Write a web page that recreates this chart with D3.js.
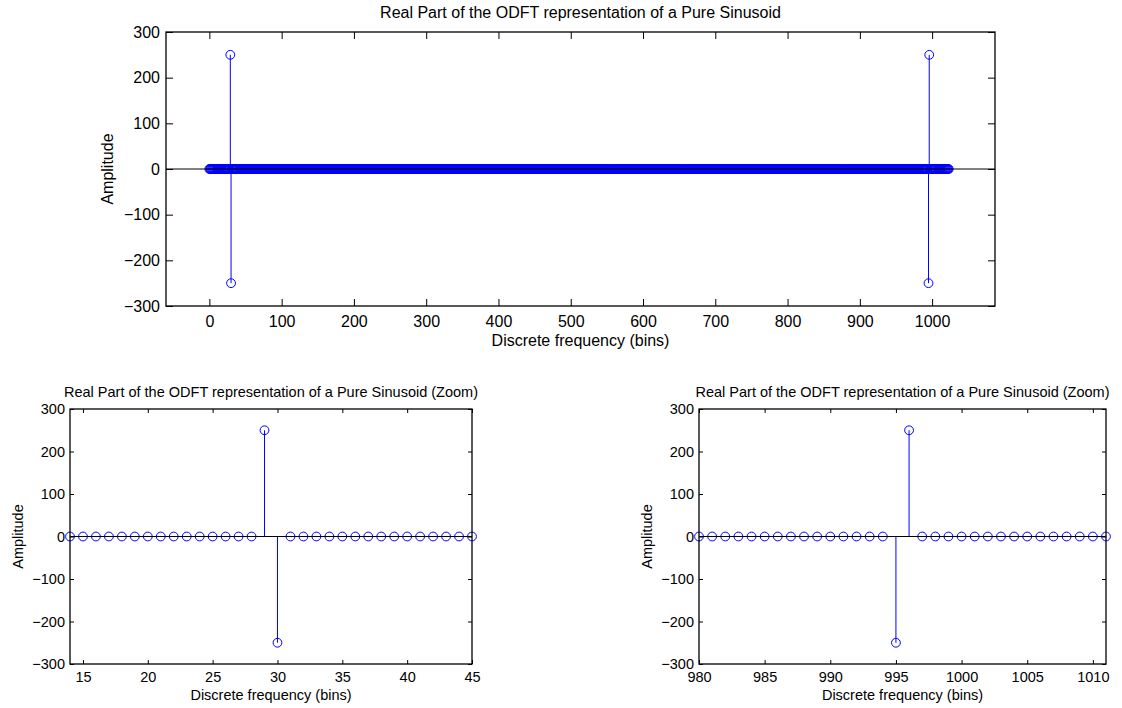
<!DOCTYPE html>
<html>
<head>
<meta charset="utf-8">
<script src="https://cdn.jsdelivr.net/npm/d3@7"></script>
<style>
    body { margin: 0; background: #fff; }
    svg { display: block; }
    text { font-family: "Liberation Sans", Arial, Helvetica, sans-serif; fill: #000; }
</style>
</head>
<body>
<div id="chart"></div>
<script>
// ODFT real part: 1024 bins, all zero except the four peaks
const binCount = 1024;
const peakBins = [29, 30, 995, 996];
const peakValues = [250, -250, -250, 250];

const yTicks = [-300, -200, -100, 0, 100, 200, 300];
const topXTicks = [0, 100, 200, 300, 400, 500, 600, 700, 800, 900, 1000];
const zoomLeftXTicks = [15, 20, 25, 30, 35, 40, 45];
const zoomRightXTicks = [980, 985, 990, 995, 1000, 1005, 1010];

const mainTitle = "Real Part of the ODFT representation of a Pure Sinusoid";
const zoomTitle = "Real Part of the ODFT representation of a Pure Sinusoid (Zoom)";
const xLabel = "Discrete frequency (bins)";
const yLabel = "Amplitude";

// full series, built from the sparse peaks
const series = d3.range(binCount).map(function (k) {
    let i = peakBins.indexOf(k);
    return { bin: k, value: i >= 0 ? peakValues[i] : 0 };
});

const svg = d3.select("#chart").append("svg")
    .attr("width", 1122)
    .attr("height", 708);

function fmt(d) {
    return d < 0 ? "\u2212" + Math.abs(d) : String(d);
}

function drawPanel(cfg) {
    let x = d3.scaleLinear().domain(cfg.xDomain).range([cfg.left, cfg.right]);
    let y = d3.scaleLinear().domain([-300, 300]).range([cfg.bottom, cfg.top]);

    let g = svg.append("g").style("font-size", cfg.font + "px");

    let data = series.filter(d => d.bin >= cfg.xDomain[0] && d.bin <= cfg.xDomain[1]);

    // stems
    g.append("g").selectAll("line")
        .data(data.filter(d => d.value !== 0))
        .join("line")
        .attr("x1", d => x(d.bin)).attr("x2", d => x(d.bin))
        .attr("y1", y(0)).attr("y2", d => y(d.value))
        .attr("stroke", "#0000ff")
        .attr("stroke-width", 1);

    // markers
    g.append("g").selectAll("circle")
        .data(data)
        .join("circle")
        .attr("cx", d => x(d.bin))
        .attr("cy", d => y(d.value))
        .attr("r", 4.4)
        .attr("fill", "none")
        .attr("stroke", "#0000ff")
        .attr("stroke-width", 1);

    // baseline
    g.append("line")
        .attr("x1", cfg.left).attr("x2", cfg.right)
        .attr("y1", y(0)).attr("y2", y(0))
        .attr("stroke", "#000")
        .attr("stroke-width", 1);

    // axes (ticks inside, mirrored on all sides)
    let tl = cfg.tickLen;
    g.append("g")
        .attr("transform", "translate(0," + cfg.bottom + ")")
        .call(d3.axisBottom(x).tickValues(cfg.xTicks).tickSize(-tl).tickPadding(tl + cfg.xPad).tickFormat(fmt))
        .call(a => a.select(".domain").remove());
    g.append("g")
        .attr("transform", "translate(0," + cfg.top + ")")
        .call(d3.axisTop(x).tickValues(cfg.xTicks).tickSize(-tl).tickFormat(""))
        .call(a => a.select(".domain").remove());
    g.append("g")
        .attr("transform", "translate(" + cfg.left + ",0)")
        .call(d3.axisLeft(y).tickValues(yTicks).tickSize(-tl).tickPadding(tl + cfg.yPad).tickFormat(fmt))
        .call(a => a.select(".domain").remove());
    g.append("g")
        .attr("transform", "translate(" + cfg.right + ",0)")
        .call(d3.axisRight(y).tickValues(yTicks).tickSize(-tl).tickFormat(""))
        .call(a => a.select(".domain").remove());

    g.selectAll(".tick text").style("font-size", cfg.font + "px")
        .attr("font-family", null);
    g.selectAll(".tick line").attr("stroke", "#000");

    // box
    g.append("rect")
        .attr("x", cfg.left).attr("y", cfg.top)
        .attr("width", cfg.right - cfg.left)
        .attr("height", cfg.bottom - cfg.top)
        .attr("fill", "none")
        .attr("stroke", "#000")
        .attr("stroke-width", 1.3);

    // texts
    let cx = (cfg.left + cfg.right) / 2;
    g.append("text")
        .attr("x", cx).attr("y", cfg.top - cfg.titleGap)
        .attr("text-anchor", "middle")
        .text(cfg.title);
    g.append("text")
        .attr("x", cx).attr("y", cfg.bottom + cfg.xLabelGap)
        .attr("text-anchor", "middle")
        .text(xLabel);
    g.append("text")
        .attr("transform", "translate(" + (cfg.left - cfg.yLabelGap) + "," + ((cfg.top + cfg.bottom) / 2) + ") rotate(-90)")
        .attr("text-anchor", "middle")
        .text(yLabel);
}

drawPanel({
    left: 166, right: 995, top: 32, bottom: 306,
    xDomain: [-60, 1087], xTicks: topXTicks,
    font: 16, tickLen: 7, xPad: 3, yPad: -1,
    title: mainTitle, titleGap: 14, xLabelGap: 40, yLabelGap: 53
});

drawPanel({
    left: 70, right: 472, top: 409, bottom: 664,
    xDomain: [14, 45], xTicks: zoomLeftXTicks,
    font: 14.5, tickLen: 4, xPad: 3.5, yPad: 1,
    title: zoomTitle, titleGap: 12, xLabelGap: 36, yLabelGap: 47
});

drawPanel({
    left: 699, right: 1106, top: 409, bottom: 664,
    xDomain: [980, 1011], xTicks: zoomRightXTicks,
    font: 14.5, tickLen: 4, xPad: 3.5, yPad: 1,
    title: zoomTitle, titleGap: 12, xLabelGap: 36, yLabelGap: 47
});
</script>
</body>
</html>
